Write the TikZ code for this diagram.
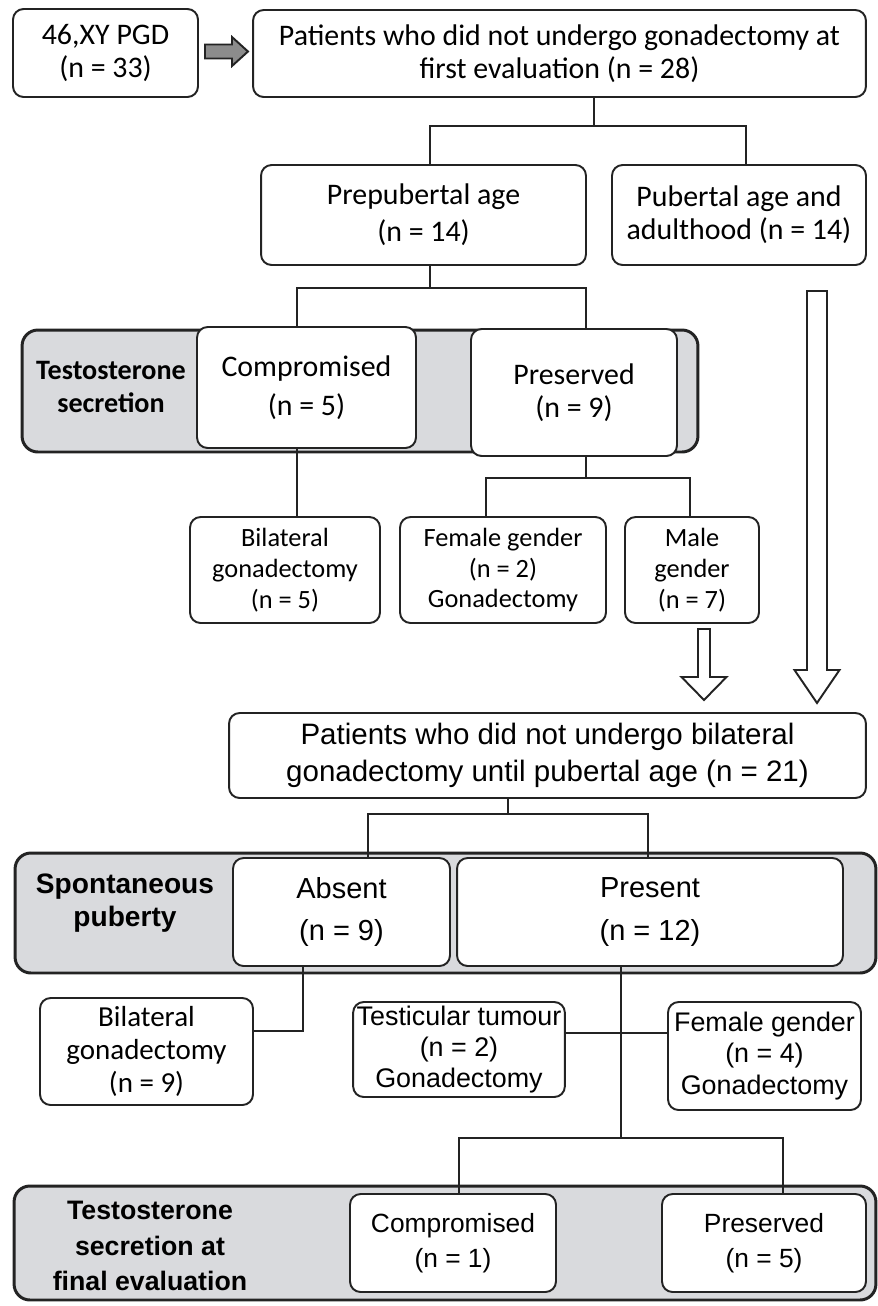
\documentclass[tikz,border=0pt]{standalone}
\usepackage{fontspec}
\setmainfont{Carlito}
\newfontfamily\arialfont{Liberation Sans}
\usepackage{tikz}
\usetikzlibrary{positioning, calc}
\definecolor{cBand}{RGB}{217,218,221}
\definecolor{cLine}{RGB}{35,35,35}
\tikzset{
	box/.style     ={rectangle, rounded corners=6pt, draw=cLine, line width=1.1pt, fill=white, align=center, inner sep=2pt, font=\fontsize{17}{19}\selectfont},
	sbox/.style    ={box, font=\fontsize{15}{17.5}\selectfont},
	abox/.style    ={box, font=\arialfont\fontsize{16.8}{21}\selectfont},
	sabox/.style   ={box, font=\arialfont\fontsize{15.3}{17.8}\selectfont},
	band/.style    ={rectangle, rounded corners=9pt, draw=cLine, line width=1.7pt, fill=cBand},
	bandlbl/.style ={align=center, font=\bfseries\fontsize{16}{19.3}\selectfont},
	abandlbl/.style={align=center, font=\arialfont\bfseries\fontsize{16}{18.7}\selectfont},
	link/.style    ={draw=cLine, line width=1.1pt},
	hollow/.style  ={draw=cLine, line width=1.1pt, fill=white, line join=miter},
}
% hollow block arrow: x, top y, tip y, shaft half width, head half width, head length
\newcommand{\blockarrow}[6]{%
	\draw[hollow] ({#1-#4},#2) -- ({#1+#4},#2) -- ({#1+#4},{#3-#6}) -- ({#1+#5},{#3-#6}) -- (#1,#3) -- ({#1-#5},{#3-#6}) -- ({#1-#4},{#3-#6}) -- cycle;}

\begin{document}
\begin{tikzpicture}[x=0.02cm, y=-0.02cm]
	\useasboundingbox (0,0) rectangle (878,1306);
	% first evaluation
	\node[box, minimum width=3.7cm, minimum height=1.76cm] (pgd) at (105.5,53) {46,XY PGD\\(n = 33)};
	\node[box, minimum width=12.26cm, minimum height=1.74cm] (first) at (559.5,53.5) {Patients who did not undergo gonadectomy at\\first evaluation (n = 28)};
	\draw[cLine, line width=1.1pt, fill=gray!90] (205,44.5) -- (232,44.5) -- (232,37) -- (248,51.5) -- (232,66) -- (232,58.5) -- (205,58.5) -- cycle;
	\node[box, minimum width=6.5cm, minimum height=2cm] (prep) at (423.5,215) {Prepubertal age\\[2pt](n = 14)};
	\node[box, minimum width=5.08cm, minimum height=2cm] (pub) at (739,215) {Pubertal age and\\adulthood (n = 14)};
	\draw[link] ($(first.south)+(34.5,0)$) -- ++(0,28) coordinate (j1);
	\draw[link] ($(prep.north)+(6.5,0)$) |- (j1) -| ($(pub.north)+(7,0)$);

	% testosterone at prepubertal age
	\node[band, minimum width=13.52cm, minimum height=2.44cm] (band1) at (360,391) {};
	\node[bandlbl] (lbl1) at (111,387) {Testosterone\\secretion};
	\draw[link] ($(prep.south)+(6.5,0)$) -- ++(0,22) coordinate (j2);
	\node[box, minimum width=4.38cm, minimum height=2.42cm] (comp1) at (306.5,387.5) {Compromised\\[3.5pt](n = 5)};
	\node[box, minimum width=4.12cm, minimum height=2.54cm] (pres1) at (574,392.5) {Preserved\\(n = 9)};
	\draw[link] ($(comp1.north)+(-9.5,0)$) |- (j2) -| ($(pres1.north)+(12,0)$);

	\node[sbox, minimum width=3.8cm, minimum height=2.12cm] (bil1) at (285,570) {Bilateral\\gonadectomy\\(n = 5)};
	\node[sbox, minimum width=4.12cm, minimum height=2.12cm] (fem1) at (503,570) {Female gender\\(n = 2)\\Gonadectomy};
	\node[sbox, minimum width=2.68cm, minimum height=2.12cm] (male) at (692,570) {Male\\gender\\(n = 7)};
	\draw[link] ($(comp1.south)+(-9.5,0)$) -- ($(bil1.north)+(12,0)$);
	\draw[link] ($(pres1.south)+(12,0)$) -- ++(0,21) coordinate (j3);
	\draw[link] ($(fem1.north)+(-17,0)$) |- (j3) -| ($(male.north)+(-2,0)$);

	\blockarrow{704}{629}{700}{6}{22.5}{23}
	\blockarrow{817}{291}{703}{10}{22.5}{33}

	% pubertal age
	\node[abox, minimum width=12.74cm, minimum height=1.7cm] (pat21) at (547.5,755.5) {Patients who did not undergo bilateral\\gonadectomy until pubertal age (n = 21)};
	\node[band, minimum width=17.22cm, minimum height=2.4cm] (band2) at (445.5,913) {};
	\node[abandlbl] (lbl2) at (125,903) {Spontaneous\\puberty};
	\node[abox, font=\arialfont\fontsize{16.5}{19}\selectfont, minimum width=4.34cm, minimum height=2.16cm] (absent) at (341.5,912) {Absent\\[5pt](n = 9)};
	\node[abox, font=\arialfont\fontsize{16.5}{19}\selectfont, minimum width=7.72cm, minimum height=2.16cm] (present) at (650,912) {Present\\[5pt](n = 12)};
	\draw[link] ($(pat21.south)+(-39.5,0)$) -- ++(0,15) coordinate (j4);
	\draw[link] ($(absent.north)+(26.5,0)$) |- (j4) -| ($(present.north)+(-2,0)$);

	\node[box, font=\fontsize{16.5}{18.7}\selectfont, minimum width=4.26cm, minimum height=2.14cm] (bil2) at (146.5,1051.5) {Bilateral\\gonadectomy\\(n = 9)};
	\node[sabox, minimum width=4.16cm, minimum height=1.9cm] (testic) at (459,1049.5) {Testicular tumour\\(n = 2)\\Gonadectomy};
	\node[sabox, minimum width=3.86cm, minimum height=2.16cm] (fem2) at (764.5,1056) {Female gender\\(n = 4)\\Gonadectomy};
	\draw[link] ($(absent.south)+(-38.5,0)$) |- ($(bil2.east)+(0,-20.5)$);
	\draw[link] ($(testic.east)+(0,-16.5)$) -- ($(fem2.west)+(0,-23)$);

	% final evaluation
	\node[band, minimum width=17.24cm, minimum height=2.28cm] (band3) at (445,1243) {};
	\node[abandlbl, font=\arialfont\bfseries\fontsize{15.2}{20}\selectfont] (lbl3) at (150,1246) {Testosterone\\secretion at\\final evaluation};
	\node[abox, font=\arialfont\fontsize{15}{20}\selectfont, minimum width=4.12cm, minimum height=1.96cm] (comp2) at (453,1243) {Compromised\\(n = 1)};
	\node[abox, font=\arialfont\fontsize{15}{20}\selectfont, minimum width=4.08cm, minimum height=1.96cm] (pres2) at (764,1243) {Preserved\\(n = 5)};
	\draw[link] ($(present.south)+(-29,0)$) -- ++(0,171) coordinate (j5);
	\draw[link] ($(comp2.north)+(6,0)$) |- (j5) -| ($(pres2.north)+(19,0)$);
\end{tikzpicture}
\end{document}
